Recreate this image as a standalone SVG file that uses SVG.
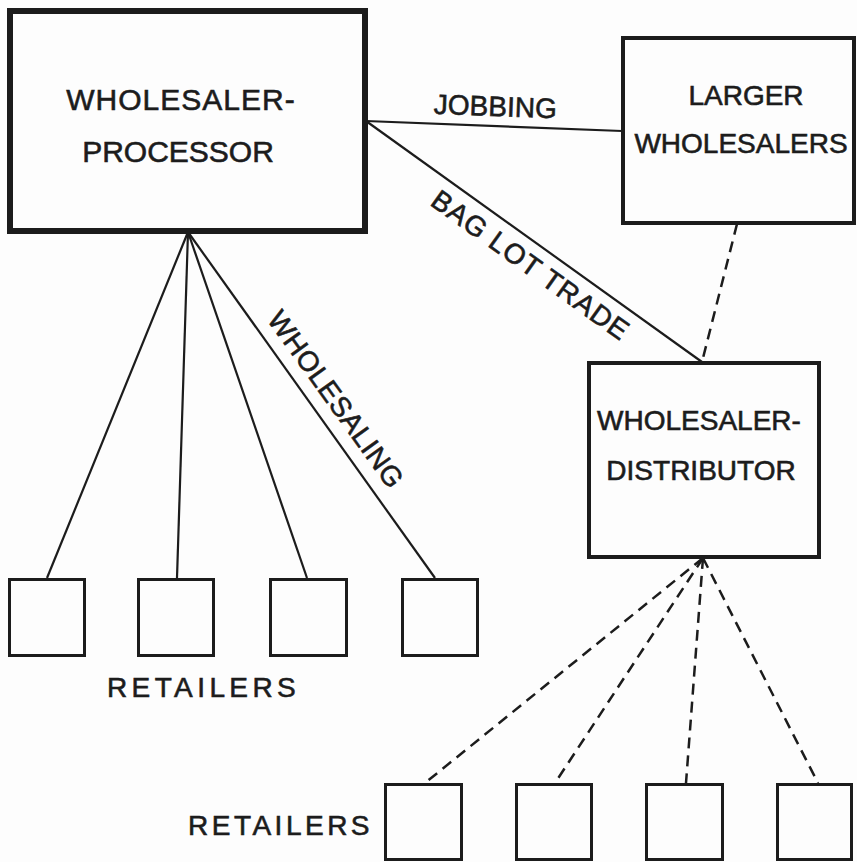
<svg xmlns="http://www.w3.org/2000/svg" width="857" height="862" viewBox="0 0 857 862">
<style>
.bg{fill:#fdfdfd}
.box{fill:none;stroke:#1c1c1c}
.big{stroke-width:6}
.mid{stroke-width:4}
.small{stroke-width:3}
.solid{fill:none;stroke:#1c1c1c;stroke-width:2.2}
.dash{fill:none;stroke:#1c1c1c;stroke-width:2.5;stroke-dasharray:11 7}
text{font-family:"Liberation Sans",Arial,sans-serif;fill:#1c1c1c;stroke:#1c1c1c;stroke-width:0.6}
.t30{font-size:30px}
.t28{font-size:28px}
.mid-a{text-anchor:middle}
</style>
<rect class="bg" x="0" y="0" width="857" height="862"/>
<g id="connectors">
<line class="solid" x1="366" y1="121" x2="622" y2="131"/>
<line class="solid" x1="366" y1="121" x2="702" y2="362"/>
<line class="dash" x1="737" y1="224" x2="702" y2="362"/>
<line class="solid" x1="188" y1="232" x2="47" y2="578"/>
<line class="solid" x1="188" y1="232" x2="177" y2="578"/>
<line class="solid" x1="188" y1="232" x2="307" y2="578"/>
<line class="solid" x1="188" y1="232" x2="435" y2="578"/>
<line class="dash" x1="703" y1="558" x2="425" y2="783"/>
<line class="dash" x1="703" y1="558" x2="555" y2="783"/>
<line class="dash" x1="703" y1="558" x2="686" y2="783"/>
<line class="dash" x1="703" y1="558" x2="818" y2="783"/>
<text class="t28 mid-a" x="495" y="116" transform="rotate(2.2 495 116)">JOBBING</text>
<text class="t28 mid-a" x="525" y="273" letter-spacing="1" transform="rotate(35.6 525 273)">BAG LOT TRADE</text>
<text class="t28 mid-a" x="328" y="405" letter-spacing="0.5" transform="rotate(54.2 328 405)">WHOLESALING</text>
</g>
<g id="wholesaler-processor">
<rect class="box big" x="10" y="11" width="355" height="220"/>
<text class="t30 mid-a" x="181" y="110" letter-spacing="1">WHOLESALER-</text>
<text class="t30 mid-a" x="178" y="162">PROCESSOR</text>
</g>
<g id="larger-wholesalers">
<rect class="box mid" x="623" y="38" width="231" height="185"/>
<text class="t28 mid-a" x="746" y="105">LARGER</text>
<text class="t28 mid-a" x="741" y="153">WHOLESALERS</text>
</g>
<g id="wholesaler-distributor">
<rect class="box mid" x="589" y="363" width="230" height="194"/>
<text class="t28 mid-a" x="699" y="430">WHOLESALER-</text>
<text class="t28 mid-a" x="701" y="480">DISTRIBUTOR</text>
</g>
<g id="retailers-left">
<rect class="box small" x="9.5" y="579.5" width="75" height="76"/>
<rect class="box small" x="138.5" y="579.5" width="75" height="76"/>
<rect class="box small" x="270.5" y="579.5" width="76" height="76"/>
<rect class="box small" x="402.5" y="579.5" width="75" height="76"/>
<text class="t28" x="107" y="697" letter-spacing="4.4">RETAILERS</text>
</g>
<g id="retailers-bottom">
<rect class="box small" x="385.5" y="784.5" width="76" height="75"/>
<rect class="box small" x="516.5" y="784.5" width="75" height="75"/>
<rect class="box small" x="646.5" y="784.5" width="76" height="75"/>
<rect class="box small" x="777.5" y="784.5" width="74" height="75"/>
<text class="t28" x="188" y="835" letter-spacing="3.5">RETAILERS</text>
</g>
</svg>
